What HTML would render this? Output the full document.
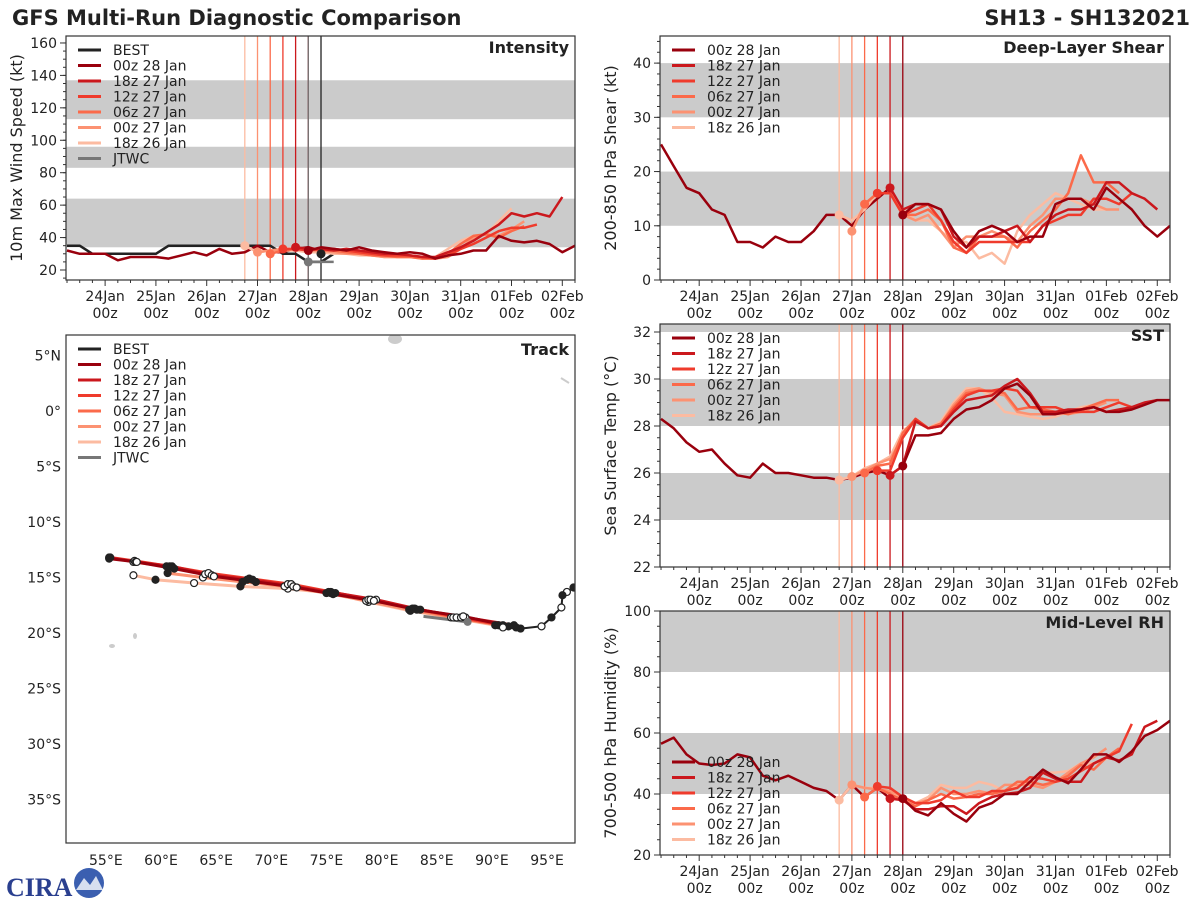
<!DOCTYPE html>
<html><head><meta charset="utf-8"><title>GFS Multi-Run Diagnostic Comparison</title>
<style>
html,body{margin:0;padding:0;background:#fff;}
svg{display:block;font-family:"DejaVu Sans","Liberation Sans",sans-serif;}
</style></head>
<body>
<svg id="chart" width="1200" height="900" viewBox="0 0 1200 900" xmlns="http://www.w3.org/2000/svg">
<rect x="0" y="0" width="1200" height="900" fill="#fff"/>
<text x="12" y="25" font-size="21" font-weight="bold" fill="#222">GFS Multi-Run Diagnostic Comparison</text>
<text x="1190" y="25" font-size="21" font-weight="bold" fill="#222" text-anchor="end">SH13 - SH132021</text>
<g>
<text x="6" y="896" font-size="26" font-weight="bold" fill="#2a3f8f" font-family="Liberation Serif, serif">CIRA</text>
<circle cx="89" cy="883" r="15" fill="#3b5fb0"/>
<path d="M76 890 L84 878 L90 885 L96 876 L103 890 Z" fill="#fff" opacity="0.8"/>
</g>
<g id="plots"></g>
</svg>
<script>
// ---------------- data ----------------
const modelNames = ["00z 28 Jan","18z 27 Jan","12z 27 Jan","06z 27 Jan","00z 27 Jan","18z 26 Jan"];
const modelInits = [4.0, 3.75, 3.5, 3.25, 3.0, 2.75]; // days after 24Jan 00z
const dayLabels = ["24Jan","25Jan","26Jan","27Jan","28Jan","29Jan","30Jan","31Jan","01Feb","02Feb"];
const histStart = -0.75;

// Intensity (kt)
const intTicks = [20,40,60,80,100,120,140,160];
const intBest = [35,35,30,30,30,30,30,30,35,35,35,35,35,35,35,35,35,30,30,25,25,30];
const intHist = [32,30,30,30,26,28,28,28,27,29,31,29,33,30,31,35,31,31,33,34,32];
const intF00z28 = [32,34,33,32,34,32,31,30,31,30,27,29,30,32,32,41,38,37,38,36,31,35];
const intF18z27 = [34,33,33,32,33,32,31,30,30,29,28,28,31,34,38,43,48,55,53,55,53,65];
const intF12z27 = [33,33,32,33,33,32,31,30,29,29,29,28,27,29,33,36,40,44,46,46,48];
const intF06z27 = [30,32,33,33,32,32,31,30,29,29,28,28,27,27,30,36,41,42,40,44,47];
const intF00z27 = [31,32,33,33,32,32,31,30,30,29,28,28,28,28,27,28,33,40,42,41,45,50];
const intF18z26 = [35,31,32,32,32,31,31,30,30,29,29,28,28,28,27,28,33,38,41,42,50,58];
const intJtwc = [25,25,25];

// Shear (kt)
const shrTicks = [0,10,20,30,40];
const shrHist = [25,21,17,16,13,12,7,7,6,8,7,7,9,12,12,10,13,15,17,12];
const shrF00z28 = [12,14,14,13,9,6,9,10,9,7,8,8,14,15,15,13,17,15,13,10,8,10];
const shrF18z27 = [17,13,14,14,13,8,6,8,8,9,10,7,10,12,13,13,14,18,18,16,15,13];
const shrF12z27 = [16,16,12,13,14,11,7,5,7,7,7,7,7,10,11,12,12,15,15,14,16];
const shrF06z27 = [14,16,16,12,12,13,11,6,5,8,8,8,6,9,11,13,16,23,18,18,16];
const shrF00z27 = [9,14,16,16,12,11,12,9,6,8,8,9,8,7,10,12,15,15,15,14,13,13];
const shrF18z26 = [12,11,13,16,16,13,11,11,9,7,7,4,5,3,9,12,14,16,15,14,13,13];

// SST (C)
const sstTicks = [22,24,26,28,30,32];
const sstHist = [28.3,27.9,27.3,26.9,27.0,26.4,25.9,25.8,26.4,26.0,26.0,25.9,25.8,25.8,25.7,25.8,26.0,26.1,25.9,26.3];
const sstF00z28 = [26.3,27.6,27.6,27.7,28.3,28.7,28.8,29.1,29.6,29.8,29.3,28.5,28.5,28.6,28.7,28.8,28.6,28.6,28.7,28.9,29.1,29.1];
const sstF18z27 = [25.9,26.3,28.2,27.9,28.0,28.6,29.1,29.2,29.3,29.7,30.0,29.4,28.6,28.6,28.7,28.7,28.8,28.6,28.7,28.8,29.0,29.1];
const sstF12z27 = [26.1,26.1,27.5,28.3,27.9,28.0,28.7,29.3,29.5,29.5,29.6,29.5,28.8,28.8,28.8,28.6,28.6,28.6,28.8,29.0,28.8];
const sstF06z27 = [26.0,26.3,26.4,27.7,28.3,27.9,28.1,28.8,29.4,29.5,29.5,29.4,28.7,28.8,28.7,28.6,28.5,28.7,28.9,29.1,29.1];
const sstF00z27 = [25.85,26.1,26.4,26.6,27.5,28.3,27.9,28.1,28.9,29.5,29.6,29.4,29.3,28.6,28.5,28.5,28.6,28.5,28.6,28.8,29.0];
const sstF18z26 = [25.7,25.85,26.2,26.4,26.7,27.8,28.2,27.9,28.2,29.0,29.6,29.6,29.2,28.6,28.5,28.4,28.3,28.4,28.6,28.8,28.9];

// Mid-level RH (%)
const rhTicks = [20,40,60,80,100];
const rhHist = [56.5,58.5,53,50,49.5,50,53,52,46,44.5,46,44,42,41,38,43,39,42,38.5,38.5];
const rhF00z28 = [38.5,34.5,33,37,33.5,31,35.5,37,40,40,44,48,45.5,43.5,48,53,53,50.5,54,59,61,64];
const rhF18z27 = [38.5,38,35,35,36,36,33.5,37,39,40,40.5,42,47,45,44,44,50,52,51,53,62,64];
const rhF12z27 = [42.5,42,39,37,37,38,41,39,39,41,41,42,45.5,45,44,45,47.5,50,52,54,63];
const rhF06z27 = [39,42,40,38,36,38,40,38.5,39,40,40,41,44,44,43,44,46,49.5,48,52,55];
const rhF00z27 = [43,42,41.5,41,39,37,38,42,40,40,41,40,43,43,43,42,44,47,50,52,55];
const rhF18z26 = [38,43,42,42,40,38,37,39,43,42,42,44,43,41,43,44,47,47,47.5,50,50,51.5];

// Track (lon E, lat)
const bestLon = [97.4,96.8,96.4,96.3,95.4,94.5,92.6,91.0];
const bestLat = [-15.9,-16.3,-16.6,-17.7,-18.6,-19.4,-19.6,-19.5];
const trkLon00z28 = [92.2,87.4,83.2,79.3,75.6,72.3,68.6,64.8,61.2,57.8,55.3];
const trkLat00z28 = [-19.5,-18.5,-17.9,-17.1,-16.5,-15.9,-15.4,-14.9,-14.2,-13.6,-13.3];
const trkLon18z27 = [92.0,87.6,83.5,79.5,75.8,72.0,68.3,64.6,61.0,57.7,55.3];
const trkLat18z27 = [-19.3,-18.6,-17.9,-17.0,-16.4,-15.8,-15.2,-14.8,-14.0,-13.6,-13.2];
const trkLon12z27 = [91.5,87.2,83.0,79.0,75.4,71.8,68.0,64.3,60.8,57.6,55.4];
const trkLat12z27 = [-19.4,-18.6,-17.8,-17.0,-16.3,-15.6,-15.1,-14.6,-14.0,-13.5,-13.2];
const trkLon06z27 = [91.0,86.8,82.8,78.8,75.2,71.5,67.8,64.0,60.5,57.5];
const trkLat06z27 = [-19.3,-18.6,-17.8,-17.0,-16.3,-15.6,-15.2,-14.7,-14.0,-13.6];
const trkLon00z27 = [90.6,86.5,82.5,78.6,75.0,71.2,67.4,63.8,60.6];
const trkLat00z27 = [-19.3,-18.6,-17.9,-17.1,-16.4,-15.8,-15.4,-15.0,-14.6];
const trkLon18z26 = [90.3,86.3,82.6,78.8,75.4,71.5,67.2,63.0,59.5,57.5];
const trkLat18z26 = [-19.3,-18.6,-18.0,-17.2,-16.4,-16.0,-15.8,-15.5,-15.2,-14.8];
const jtwcLon = [87.8,83.8];
const jtwcLat = [-19.0,-18.5];
const lonTicks = [55,60,65,70,75,80,85,90,95];
const latTicks = [5,0,-5,-10,-15,-20,-25,-30,-35];

// ---------------- rendering ----------------
const colors = ["#99000d","#cb181d","#ef3b2c","#fb6a4a","#fc9272","#fcbba1"];
const NS = "http://www.w3.org/2000/svg";
const root = document.getElementById("plots");
function mk(tag, attrs, parent){
  const e = document.createElementNS(NS, tag);
  for (const k in attrs) e.setAttribute(k, attrs[k]);
  (parent||root).appendChild(e);
  return e;
}
const TMIN = -0.77, TMAX = 9.25;

function timePanel(cfg){
  const g = mk("g", {});
  
  
  const X = t => cfg.x0 + (t - TMIN) / (TMAX - TMIN) * (cfg.x1 - cfg.x0);
  const Y = v => cfg.y1 - (v - cfg.ymin) / (cfg.ymax - cfg.ymin) * (cfg.y1 - cfg.y0);
  const clip = "clip-" + cfg.name;
  const cp = mk("clipPath", {id: clip}, g);
  mk("rect", {x: cfg.x0, y: cfg.y0, width: cfg.x1 - cfg.x0, height: cfg.y1 - cfg.y0}, cp);
  const inner = mk("g", {"clip-path": "url(#" + clip + ")"}, g);
  cfg.bands.forEach(b => {
    const r = mk("rect", {x: cfg.x0, y: Y(Math.min(b[1], cfg.ymax + 5)), width: cfg.x1 - cfg.x0,
      height: Y(b[0]) - Y(Math.min(b[1], cfg.ymax + 5)), fill: "#cbcbcb"}, inner);
    
    
  });
  for (let i = modelInits.length - 1; i >= 0; i--) {
    const l = mk("line", {x1: X(modelInits[i]), x2: X(modelInits[i]), y1: cfg.y0, y2: cfg.y1, stroke: colors[i], "stroke-width": 1.3}, inner);
    
    
  }
  if (cfg.best) {
    mk("line", {x1: X(4.0), x2: X(4.0), y1: cfg.y0, y2: cfg.y1, stroke: "#777", "stroke-width": 1.3}, inner);
    mk("line", {x1: X(4.25), x2: X(4.25), y1: cfg.y0, y2: cfg.y1, stroke: "#222", "stroke-width": 1.3}, inner);
  }
  const line = (arr, t0, col, w, nm) => {
    const pts = arr.map((v, i) => X(t0 + i * 0.25).toFixed(1) + "," + Y(v).toFixed(1)).join(" ");
    const p = mk("polyline", {points: pts, fill: "none", stroke: col, "stroke-width": w, "stroke-linejoin": "round"}, inner);
    
    
  };
  if (cfg.best) line(cfg.best, histStart, "#222", 2.5, "best-line");
  line(cfg.hist, histStart, colors[0], 2.5, "history-line");
  for (let i = cfg.fc.length - 1; i >= 0; i--) line(cfg.fc[i], modelInits[i], colors[i], 2.5, "forecast-" + modelNames[i].replace(/ /g, "-").toLowerCase());
  if (cfg.best) {
    line(intJtwc, 4.0, "#777", 2.5, "jtwc-line");
    mk("circle", {cx: X(4.0), cy: Y(intJtwc[0]), r: 4.5, fill: "#777"}, inner);
    mk("circle", {cx: X(4.25), cy: Y(cfg.best[cfg.best.length - 1]), r: 4.5, fill: "#222"}, inner);
  }
  for (let i = cfg.fc.length - 1; i >= 0; i--) {
    const c = mk("circle", {cx: X(modelInits[i]), cy: Y(cfg.fc[i][0]), r: 4.5, fill: colors[i]}, inner);
    
    
  }
  mk("rect", {x: cfg.x0, y: cfg.y0, width: cfg.x1 - cfg.x0, height: cfg.y1 - cfg.y0, fill: "none", stroke: "#333", "stroke-width": 1.2}, g);
  for (let k = -3; k <= 37; k++) {
    const t = k * 0.25; if (t < TMIN || t > TMAX) continue;
    const major = k % 4 === 0;
    mk("line", {x1: X(t), x2: X(t), y1: cfg.y1, y2: cfg.y1 + (major ? 6 : 3), stroke: "#333", "stroke-width": 1}, g);
  }
  dayLabels.forEach((d, i) => {
    const tx = mk("text", {x: X(i), y: cfg.y1 + 21, "font-size": 14, "text-anchor": "middle", fill: "#222"}, g);
    tx.textContent = d;
    
    
    const t2 = mk("text", {x: X(i), y: cfg.y1 + 38, "font-size": 14, "text-anchor": "middle", fill: "#222"}, g);
    t2.textContent = "00z";
  });
  for (let v = cfg.ymin - cfg.ymin % cfg.minor; v <= cfg.ymax; v += cfg.minor) {
    if (v < cfg.ymin) continue;
    mk("line", {x1: cfg.x0, x2: cfg.x0 - 3, y1: Y(v), y2: Y(v), stroke: "#333", "stroke-width": 1}, g);
  }
  cfg.ticks.forEach(v => {
    mk("line", {x1: cfg.x0, x2: cfg.x0 - 6, y1: Y(v), y2: Y(v), stroke: "#333", "stroke-width": 1}, g);
    const tx = mk("text", {x: cfg.x0 - 9, y: Y(v) + 5, "font-size": 14, "text-anchor": "end", fill: "#222"}, g);
    tx.textContent = v;
    
    
  });
  const yl = mk("text", {x: 0, y: 0, "font-size": 16, "text-anchor": "middle", fill: "#222",
    transform: "translate(" + (cfg.x0 - 44) + "," + ((cfg.y0 + cfg.y1) / 2) + ") rotate(-90)"}, g);
  yl.textContent = cfg.ylabel;
  
  
  const tt = mk("text", {x: cfg.x1 - 6, y: cfg.y0 + 17, "font-size": 16, "font-weight": "bold", "text-anchor": "end", fill: "#222"}, g);
  tt.textContent = cfg.title;
  
  
  legend(g, cfg.x0 + 12, cfg.legY, cfg.best ? true : false);
}

function legend(g, x, y, withBest){
  const items = [];
  if (withBest) items.push(["BEST", "#222"]);
  modelNames.forEach((n, i) => items.push([n, colors[i]]));
  if (withBest) items.push(["JTWC", "#777"]);
  const lg = mk("g", {}, g);
  
  
  items.forEach((it, i) => {
    const yy = y + i * 15.5;
    mk("line", {x1: x, x2: x + 23, y1: yy, y2: yy, stroke: it[1], "stroke-width": 3}, lg);
    const t = mk("text", {x: x + 35, y: yy + 5, "font-size": 14, fill: "#222"}, lg);
    t.textContent = it[0];
    
    
  });
}

timePanel({name: "intensity", x0: 66, x1: 575, y0: 36, y1: 280, ymin: 13.83, ymax: 164.3, minor: 5,
  ticks: intTicks, bands: [[34, 64], [83, 96], [113, 137]], best: intBest, hist: intHist,
  fc: [intF00z28, intF18z27, intF12z27, intF06z27, intF00z27, intF18z26],
  ylabel: "10m Max Wind Speed (kt)", title: "Intensity", legY: 50});
timePanel({name: "shear", x0: 660, x1: 1170, y0: 36, y1: 280, ymin: 0, ymax: 45.0, minor: 2,
  ticks: shrTicks, bands: [[10, 20], [30, 40]], hist: shrHist,
  fc: [shrF00z28, shrF18z27, shrF12z27, shrF06z27, shrF00z27, shrF18z26],
  ylabel: "200-850 hPa Shear (kt)", title: "Deep-Layer Shear", legY: 50});
timePanel({name: "sst", x0: 660, x1: 1170, y0: 324, y1: 567, ymin: 22, ymax: 32.34, minor: 0.5,
  ticks: sstTicks, bands: [[24, 26], [28, 30], [32, 40]], hist: sstHist,
  fc: [sstF00z28, sstF18z27, sstF12z27, sstF06z27, sstF00z27, sstF18z26],
  ylabel: "Sea Surface Temp (°C)", title: "SST", legY: 338});
timePanel({name: "rh", x0: 660, x1: 1170, y0: 611, y1: 855, ymin: 20, ymax: 100, minor: 5,
  ticks: rhTicks, bands: [[40, 60], [80, 100]], hist: rhHist,
  fc: [rhF00z28, rhF18z27, rhF12z27, rhF06z27, rhF00z27, rhF18z26],
  ylabel: "700-500 hPa Humidity (%)", title: "Mid-Level RH", legY: 762});

// ---------- track map ----------
(function(){
  const x0 = 66, x1 = 575, y0 = 335, y1 = 843;
  const LX = lon => 161 + (lon - 60) * 11.03;
  const LY = lat => 411 - lat * 11.1;
  const g = mk("g", {});
  
  
  const cp = mk("clipPath", {id: "clip-track"}, g);
  mk("rect", {x: x0, y: y0, width: x1 - x0, height: y1 - y0}, cp);
  const inner = mk("g", {"clip-path": "url(#clip-track)"}, g);
  mk("ellipse", {cx: 112, cy: 646, rx: 3, ry: 2, fill: "#ccc"}, inner);
  mk("ellipse", {cx: 135, cy: 636, rx: 2, ry: 3, fill: "#ccc"}, inner);
  mk("ellipse", {cx: 395, cy: 339, rx: 7, ry: 5, fill: "#ccc"}, inner);
  mk("line", {x1: 561, y1: 378, x2: 569, y2: 383, stroke: "#ccc", "stroke-width": 2}, inner);
  const path = (lons, lats, col, w, nm) => {
    const pts = lons.map((v, i) => LX(v).toFixed(1) + "," + LY(lats[i]).toFixed(1)).join(" ");
    const p = mk("polyline", {points: pts, fill: "none", stroke: col, "stroke-width": w, "stroke-linejoin": "round"}, inner);
    
    
  };
  const marks = (lons, lats) => lons.forEach((v, i) => {
    const c = mk("circle", {cx: LX(v), cy: LY(lats[i]), r: 3.5, fill: i % 2 ? "#fff" : "#222", stroke: "#222", "stroke-width": 1.2}, inner);
    
    
  });
  const tl = [[trkLon18z26, trkLat18z26], [trkLon00z27, trkLat00z27], [trkLon06z27, trkLat06z27],
              [trkLon12z27, trkLat12z27], [trkLon18z27, trkLat18z27], [trkLon00z28, trkLat00z28]];
  tl.forEach((t, j) => path(t[0], t[1], colors[5 - j], 3, "track-" + modelNames[5 - j].replace(/ /g, "-").toLowerCase()));
  path(jtwcLon, jtwcLat, "#777", 3, "track-jtwc");
  path(bestLon, bestLat, "#222", 2, "track-best");
  tl.forEach(t => marks(t[0], t[1]));
  marks(bestLon, bestLat);
  mk("circle", {cx: LX(jtwcLon[0]), cy: LY(jtwcLat[0]), r: 4, fill: "#777"}, inner);
  mk("rect", {x: x0, y: y0, width: x1 - x0, height: y1 - y0, fill: "none", stroke: "#333", "stroke-width": 1.2}, g);
  lonTicks.forEach(v => {
    const t = mk("text", {x: LX(v), y: y1 + 22, "font-size": 14, "text-anchor": "middle", fill: "#222"}, g);
    t.textContent = v + "°E";
    
    
  });
  latTicks.forEach(v => {
    const t = mk("text", {x: x0 - 5, y: LY(v) + 5, "font-size": 14, "text-anchor": "end", fill: "#222"}, g);
    t.textContent = v > 0 ? v + "°N" : (v < 0 ? (-v) + "°S" : "0°");
    
    
  });
  const tt = mk("text", {x: x1 - 6, y: y0 + 20, "font-size": 16, "font-weight": "bold", "text-anchor": "end", fill: "#222"}, g);
  tt.textContent = "Track";
  
  
  legend(g, x0 + 12, 349, true);
})();
</script>
</body></html>
